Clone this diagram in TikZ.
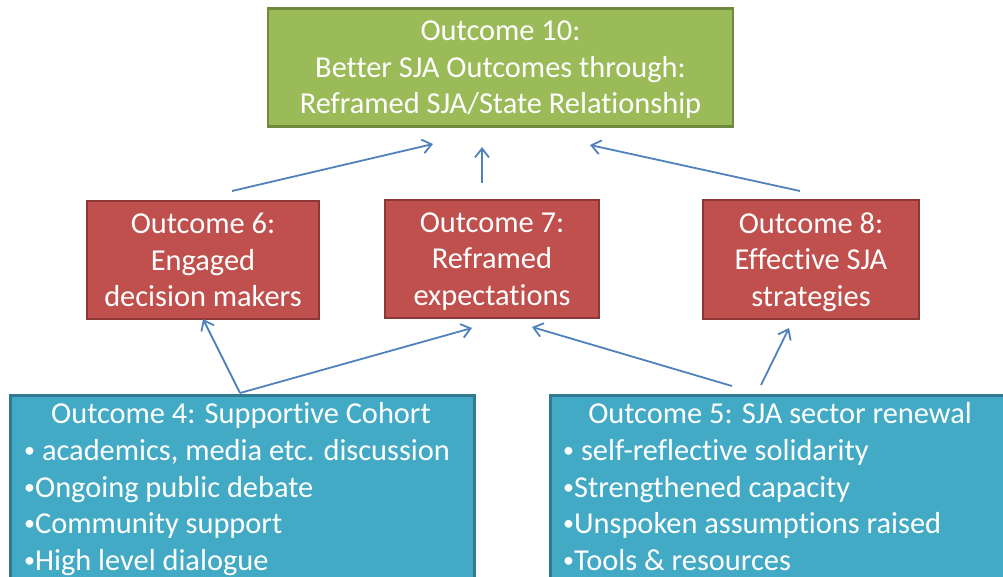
\documentclass[tikz,border=0pt]{standalone}
\usepackage{fontspec}
\setmainfont{Carlito}[Ligatures=NoCommon]
\usetikzlibrary{arrows.meta,calc}
\definecolor{olivefill}{HTML}{9BBB59}
\definecolor{oliveline}{HTML}{71893F}
\definecolor{brickfill}{HTML}{C0504D}
\definecolor{brickline}{HTML}{8C3836}
\definecolor{tealfill}{HTML}{43AAC6}
\definecolor{tealline}{HTML}{317A8F}
\definecolor{arrowblue}{HTML}{4F81BD}
% small raised bullet used in the lists
\newcommand\itemdot{\raisebox{2.8pt}{\fontsize{22}{22}\selectfont •}}
\tikzset{
  boxtext/.style={text=white, font=\fontsize{30.4}{36.5}\selectfont, align=center, inner sep=0pt, text depth=0pt},
  topbox/.style={rectangle, fill=olivefill, draw=oliveline, line width=2.5pt, boxtext},
  midbox/.style={rectangle, fill=brickfill, draw=brickline, line width=2.5pt, boxtext},
  basebox/.style={rectangle, fill=tealfill, draw=tealline, line width=2.5pt, inner sep=0pt},
  line/.style={text=white, font=\fontsize{30.4}{36.5}\selectfont, inner sep=0pt},
  link/.style={draw=arrowblue, line width=1.8pt, -{Straight Barb[length=9pt,width=14pt,line width=1.8pt]}},
}
\begin{document}
\begin{tikzpicture}[x=1pt,y=-1pt]
\useasboundingbox (0,0) rectangle (1003,576);
\clip (0,0) rectangle (1003,576);

% top outcome
\node[topbox, minimum width=465pt, minimum height=118pt] (o10) at (500.5,67.5)
  {Outcome 10:\\Better SJA Outcomes through:\\Reframed SJA/State Relationship};

% middle outcomes
\node[midbox, minimum width=232pt, minimum height=118pt] (o6) at (203,260)
  {Outcome 6:\\Engaged\\decision makers};
\node[midbox, minimum width=214pt, minimum height=118pt] (o7) at (492,259)
  {Outcome 7:\\Reframed\\expectations};
\node[midbox, minimum width=216pt, minimum height=119pt] (o8) at (811,259.5)
  {Outcome 8:\\Effective SJA\\strategies};

% base outcomes (run off the lower edge)
\node[basebox, anchor=north west, minimum width=464pt, minimum height=220pt] (o4) at (9,394) {};
\node[basebox, anchor=north west, minimum width=462pt, minimum height=220pt] (o5) at (549,394) {};

\node[line, anchor=base] (o4t) at (241,423) {Outcome 4: Supportive Cohort};
\node[line, anchor=base west] (o4a) at (24,460) {\itemdot{} academics, media etc. discussion};
\node[line, anchor=base west] (o4b) at (24,497) {\itemdot Ongoing public debate};
\node[line, anchor=base west] (o4c) at (24,533) {\itemdot Community support};
\node[line, anchor=base west] (o4d) at (24,570) {\itemdot High level dialogue};

\node[line, anchor=base] (o5t) at (780,423) {Outcome 5: SJA sector renewal};
\node[line, anchor=base west] (o5a) at (563,460) {\itemdot{} self-reflective solidarity};
\node[line, anchor=base west] (o5b) at (563,497) {\itemdot Strengthened capacity};
\node[line, anchor=base west] (o5c) at (563,533) {\itemdot Unspoken assumptions raised};
\node[line, anchor=base west] (o5d) at (563,570) {\itemdot Tools \& resources};

% connector end points
\coordinate (s6) at (232,191);
\coordinate (s7) at (482,183);
\coordinate (s8) at (800,191);
\coordinate (t6) at (433,144);
\coordinate (t7) at (482,147);
\coordinate (t8) at (590,145);
\coordinate (s4) at (240,393);
\coordinate (u6) at (203,319);
\coordinate (u7a) at (472,328);
\coordinate (s5a) at (732,386);
\coordinate (u7b) at (532,327);
\coordinate (s5b) at (761,385);
\coordinate (u8) at (789,328);

\draw[link] (s6) -- (t6);
\draw[link] (s7) -- (t7);
\draw[link] (s8) -- (t8);
\draw[link] (s4) -- (u6);
\draw[link] (s4) -- (u7a);
\draw[link] (s5a) -- (u7b);
\draw[link] (s5b) -- (u8);
\end{tikzpicture}
\end{document}
